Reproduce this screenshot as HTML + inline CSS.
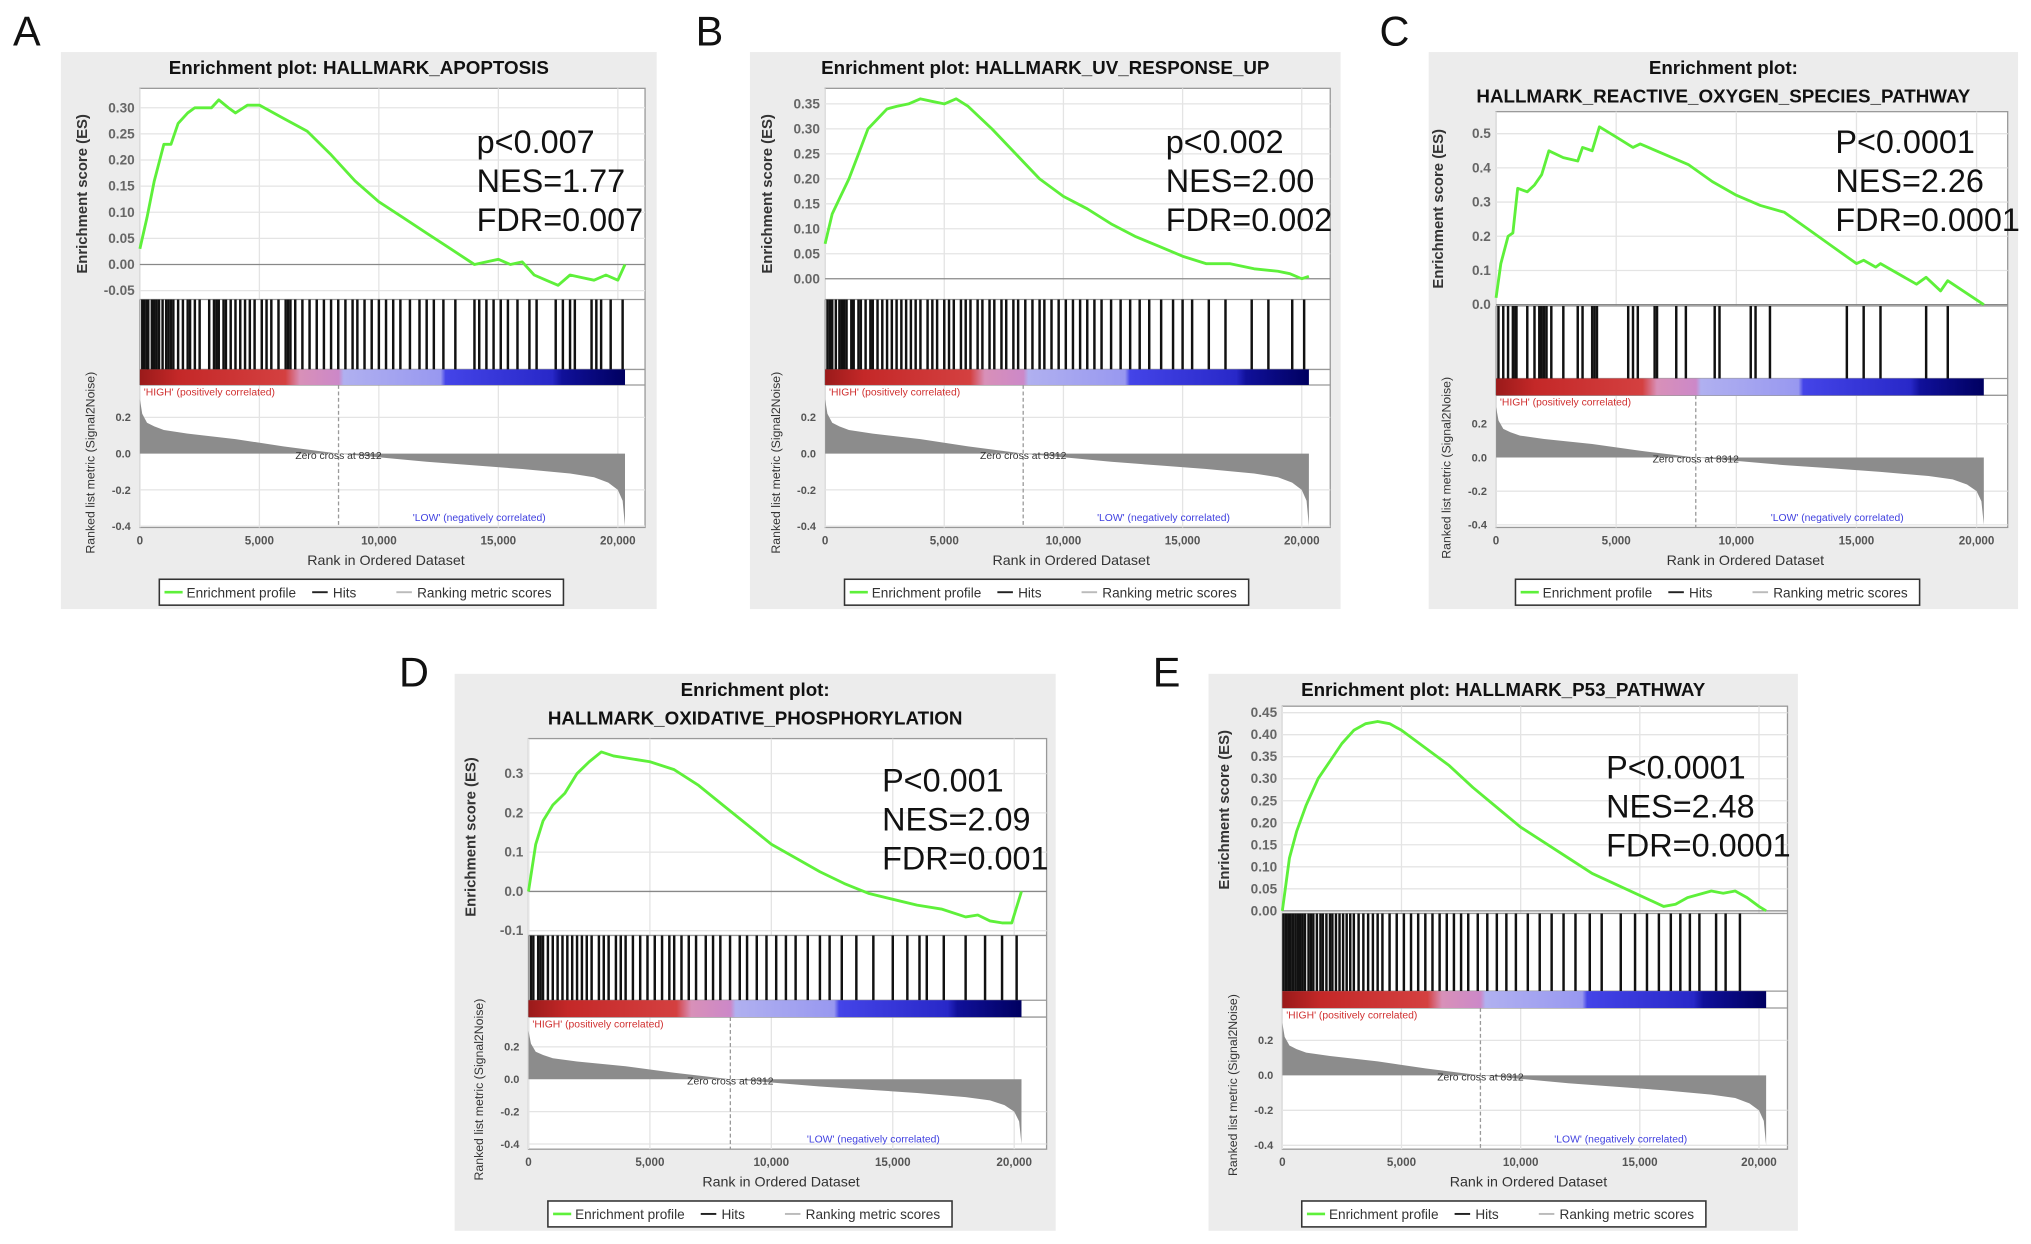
<!DOCTYPE html>
<html><head><meta charset="utf-8">
<style>
html,body{margin:0;padding:0;background:#fff;}
svg{display:block;font-family:"Liberation Sans",Arial,sans-serif;}
</style></head>
<body>
<svg id="fig" width="2031" height="1244" viewBox="0 0 1568 960" xmlns="http://www.w3.org/2000/svg">
<defs>
<linearGradient id="cbar" x1="0" x2="1" y1="0" y2="0">
<stop offset="0" stop-color="#9a1a1a"/><stop offset="0.08" stop-color="#c42828"/>
<stop offset="0.3" stop-color="#d44040"/><stop offset="0.33" stop-color="#d890b8"/>
<stop offset="0.41" stop-color="#cc88c8"/><stop offset="0.42" stop-color="#b0b0f0"/>
<stop offset="0.62" stop-color="#9898f0"/><stop offset="0.63" stop-color="#4444e8"/>
<stop offset="0.85" stop-color="#2828c8"/><stop offset="0.87" stop-color="#10109a"/>
<stop offset="1" stop-color="#000060"/></linearGradient>
</defs>
</svg>
<script>
// ---- data (rank in thousands) ----
const xTicks = [0, 5000, 10000, 15000, 20000];
const xTickLabels = ["0", "5,000", "10,000", "15,000", "20,000"];
const datasetSize = 20300;
const zeroCross = 8312;
const metricRanks = [0, 0.1, 0.3, 0.6, 1, 2, 4, 6, 8.312, 10, 12, 14, 16, 18, 19, 19.6, 20, 20.2, 20.3];
const metricValues = [0.3, 0.22, 0.17, 0.15, 0.13, 0.11, 0.08, 0.04, 0.0, -0.02, -0.045, -0.065, -0.085, -0.11, -0.13, -0.16, -0.2, -0.26, -0.4];

const esRanksA = [0,0.3,0.6,1,1.3,1.6,2,2.3,2.6,3,3.3,3.7,4,4.5,5,6,7,8,9,10,11,12,13,14,14.5,15,15.5,16,16.5,17,17.5,18,18.5,19,19.5,20,20.3];
const esValsA = [0.03,0.09,0.16,0.23,0.23,0.27,0.29,0.30,0.30,0.30,0.315,0.30,0.29,0.305,0.305,0.28,0.255,0.21,0.16,0.12,0.09,0.06,0.03,0.0,0.005,0.01,0.0,0.005,-0.02,-0.03,-0.04,-0.02,-0.025,-0.03,-0.02,-0.03,0.0];
const esRanksB = [0,0.3,0.6,1,1.4,1.8,2.2,2.6,3,3.5,4,4.5,5,5.5,6,7,8,9,10,11,12,13,14,15,16,17,18,19,19.5,20,20.3];
const esValsB = [0.07,0.13,0.16,0.20,0.25,0.30,0.32,0.34,0.345,0.35,0.36,0.355,0.35,0.36,0.345,0.30,0.25,0.20,0.165,0.14,0.11,0.085,0.065,0.045,0.03,0.03,0.02,0.015,0.01,0.0,0.005];
const esRanksC = [0,0.2,0.5,0.7,0.9,1.3,1.6,1.9,2.2,2.8,3.4,3.6,4.0,4.3,5,5.7,6,7,8,9,10,11,12,13,14,14.6,15,15.3,15.8,16,17.5,17.9,18.5,18.8,20.3];
const esValsC = [0.02,0.12,0.20,0.21,0.34,0.33,0.35,0.38,0.45,0.43,0.42,0.46,0.45,0.52,0.49,0.46,0.47,0.44,0.41,0.36,0.32,0.29,0.27,0.22,0.17,0.14,0.12,0.13,0.11,0.12,0.06,0.08,0.04,0.07,0.0];
const esRanksD = [0,0.3,0.6,1,1.5,2,2.5,3,3.5,4,5,6,7,8,9,10,11,12,13,14,15,16,17,18,18.5,19,19.5,19.9,20.3];
const esValsD = [0.0,0.12,0.18,0.22,0.25,0.30,0.33,0.355,0.345,0.34,0.33,0.31,0.27,0.22,0.17,0.12,0.085,0.05,0.02,-0.005,-0.02,-0.035,-0.045,-0.065,-0.06,-0.075,-0.08,-0.08,0.0];
const esRanksE = [0,0.3,0.6,1,1.5,2,2.5,3,3.5,4,4.5,5,6,7,8,9,10,11,12,13,14,15,16,16.5,17,18,18.5,19,19.5,20,20.3];
const esValsE = [0.0,0.12,0.18,0.24,0.30,0.34,0.38,0.41,0.425,0.43,0.425,0.41,0.37,0.33,0.28,0.235,0.19,0.155,0.12,0.085,0.06,0.035,0.01,0.015,0.03,0.045,0.04,0.045,0.03,0.01,0.0];

const hitsA = [0.1,0.2,0.3,0.35,0.5,0.6,0.7,0.8,0.95,1.1,1.2,1.3,1.4,1.6,1.8,2.0,2.1,2.3,2.5,2.9,3.1,3.2,3.3,3.5,3.6,3.8,4.0,4.2,4.4,4.6,4.8,5.1,5.3,5.5,5.8,6.1,6.2,6.3,6.5,6.8,7.1,7.4,7.7,8.0,8.3,8.6,8.9,9.1,9.4,9.7,10.0,10.3,10.6,10.9,11.3,11.7,12.0,12.3,12.7,13.2,14.0,14.2,14.5,14.8,15.1,15.4,15.8,16.3,16.6,17.4,17.7,18.0,18.2,18.9,19.1,19.3,19.7,20.2];
const hitsB = [0.1,0.2,0.3,0.45,0.6,0.7,0.8,0.9,1.1,1.2,1.4,1.5,1.7,1.9,2.0,2.2,2.4,2.6,2.8,3.0,3.2,3.4,3.6,3.8,4.0,4.3,4.5,4.7,5.0,5.2,5.4,5.7,5.9,6.1,6.4,6.6,6.9,7.1,7.4,7.6,7.9,8.1,8.4,8.7,9.0,9.2,9.5,9.8,10.1,10.4,10.7,11.0,11.3,11.6,12.0,12.4,12.8,13.2,13.6,14.1,14.6,15.0,15.4,16.1,16.8,17.9,18.6,19.6,20.1];
const hitsC = [0.1,0.3,0.5,0.7,0.8,0.85,1.3,1.6,1.8,1.9,2.0,2.1,2.3,2.8,3.4,3.6,4.0,4.1,4.2,5.5,5.7,5.9,6.6,6.7,7.5,7.9,9.1,9.3,10.6,10.8,11.4,14.6,15.3,16.0,17.9,18.8];
const hitsD = [0.1,0.2,0.4,0.5,0.6,0.8,1.0,1.2,1.4,1.6,1.8,2.0,2.2,2.4,2.6,2.9,3.1,3.3,3.6,3.8,4.0,4.3,4.6,4.9,5.2,5.5,5.8,6.0,6.3,6.6,6.9,7.3,7.6,7.9,8.3,8.7,9.0,9.4,9.8,10.2,10.6,11.0,11.5,12.0,12.4,12.9,13.5,14.2,15.0,15.6,16.1,16.4,17.1,18.0,18.8,19.5,20.1];
const hitsE = [0.05,0.15,0.25,0.35,0.45,0.55,0.65,0.75,0.85,0.95,1.1,1.2,1.3,1.45,1.6,1.7,1.85,2.0,2.1,2.25,2.4,2.55,2.7,2.85,3.0,3.2,3.4,3.6,3.8,4.0,4.2,4.5,4.8,5.1,5.4,5.7,6.0,6.3,6.6,6.9,7.2,7.5,7.8,8.2,8.6,9.0,9.4,9.8,10.3,10.8,11.3,11.8,12.3,12.9,13.4,14.2,14.8,15.3,15.8,16.3,16.7,17.1,17.5,18.2,18.6,19.2];

// ---- layout (positions, not data) ----
const panels = [
 {id:'a', letter:'A', lx:10, ly:35, box:[47,40,507,470], title:['Enrichment plot: HALLMARK_APOPTOSIS'], ty:57,
  x0:108, x1:498, xTick20k:477, es:[68,231], esZeroY:204, esTopVal:0.30, esTopY:83, esTicks:[0.30,0.25,0.20,0.15,0.10,0.05,0.00,-0.05], dec:2,
  hitsY:[231,285], barY:[285,297], rk:[297,407], rk02:322, rk0:350, stats:['p<0.007','NES=1.77','FDR=0.007'], sx:368, sy:118,
  esR:esRanksA, esV:esValsA, hits:hitsA},
 {id:'b', letter:'B', lx:537, ly:35, box:[579,40,1035,470], title:['Enrichment plot: HALLMARK_UV_RESPONSE_UP'], ty:57,
  x0:637, x1:1027, xTick20k:1005, es:[68,231], esZeroY:215, esTopVal:0.35, esTopY:80, esTicks:[0.35,0.30,0.25,0.20,0.15,0.10,0.05,0.00], dec:2,
  hitsY:[231,285], barY:[285,297], rk:[297,407], rk02:322, rk0:350, stats:['p<0.002','NES=2.00','FDR=0.002'], sx:900, sy:118,
  esR:esRanksB, esV:esValsB, hits:hitsB},
 {id:'c', letter:'C', lx:1065, ly:35, box:[1103,40,1558,470], title:['Enrichment plot:','HALLMARK_REACTIVE_OXYGEN_SPECIES_PATHWAY'], ty:57,
  x0:1155, x1:1550, xTick20k:1526, es:[86,236], esZeroY:235, esTopVal:0.5, esTopY:103, esTicks:[0.5,0.4,0.3,0.2,0.1,0.0], dec:1,
  hitsY:[236,292], barY:[292,305], rk:[305,407], rk02:327, rk0:353, stats:['P<0.0001','NES=2.26','FDR=0.0001'], sx:1417, sy:118,
  esR:esRanksC, esV:esValsC, hits:hitsC},
 {id:'d', letter:'D', lx:308, ly:530, box:[351,520,815,950], title:['Enrichment plot:','HALLMARK_OXIDATIVE_PHOSPHORYLATION'], ty:537,
  x0:408, x1:808, xTick20k:783, es:[570,722], esZeroY:688, esTopVal:0.3, esTopY:597, esTicks:[0.3,0.2,0.1,0.0,-0.1], dec:1,
  hitsY:[722,772], barY:[772,785], rk:[785,887], rk02:808, rk0:833, stats:['P<0.001','NES=2.09','FDR=0.001'], sx:681, sy:611,
  esR:esRanksD, esV:esValsD, hits:hitsD},
 {id:'e', letter:'E', lx:890, ly:530, box:[933,520,1388,950], title:['Enrichment plot: HALLMARK_P53_PATHWAY'], ty:537,
  x0:990, x1:1380, xTick20k:1358, es:[545,705], esZeroY:703, esTopVal:0.45, esTopY:550, esTicks:[0.45,0.40,0.35,0.30,0.25,0.20,0.15,0.10,0.05,0.00], dec:2,
  hitsY:[705,765], barY:[765,778], rk:[778,887], rk02:803, rk0:830, stats:['P<0.0001','NES=2.48','FDR=0.0001'], sx:1240, sy:601,
  esR:esRanksE, esV:esValsE, hits:hitsE}
];

const NS = 'http://www.w3.org/2000/svg';
const svg = document.getElementById('fig');
function mk(tag, attrs, parent, text){
  const e = document.createElementNS(NS, tag);
  for (const k in attrs) e.setAttribute(k, attrs[k]);
  if (text !== undefined) e.textContent = text;
  parent.appendChild(e); return e;
}

panels.forEach(p => {
  const g = mk('g', {}, svg);
  
  
  const xs = r => p.x0 + (r / 20000) * (p.xTick20k - p.x0);
  const esY = v => p.esZeroY - (v / p.esTopVal) * (p.esZeroY - p.esTopY);
  const rkY = v => p.rk0 - (v / 0.2) * (p.rk0 - p.rk02);
  const xEnd = xs(datasetSize);

  let t = mk('text', {x:p.lx, y:p.ly, 'font-size':32, fill:'#111'}, g, p.letter);
   
  let r = mk('rect', {x:p.box[0], y:p.box[1], width:p.box[2]-p.box[0], height:p.box[3]-p.box[1], fill:'#ececec'}, g);
   
  const cx = (p.box[0] + p.box[2]) / 2;
  p.title.forEach((line, i) => {
    const tt = mk('text', {x:cx, y:p.ty + i*22, 'font-size':14.5, 'font-weight':'bold', 'text-anchor':'middle', fill:'#111'}, g, line);
     
  });
  r = mk('rect', {x:p.x0, y:p.es[0], width:p.x1-p.x0, height:p.rk[1]-p.es[0], fill:'#fff', stroke:'#999', 'stroke-width':1}, g);
   
  xTicks.forEach(v => mk('line', {x1:xs(v), x2:xs(v), y1:p.es[0], y2:p.es[1], stroke:'#e4e4e4'}, g));
  xTicks.forEach(v => mk('line', {x1:xs(v), x2:xs(v), y1:p.rk[0], y2:p.rk[1], stroke:'#e4e4e4'}, g));
  p.esTicks.forEach(v => {
    mk('line', {x1:p.x0, x2:p.x1, y1:esY(v), y2:esY(v), stroke: v===0 ? '#888' : '#e4e4e4'}, g);
    const l = mk('text', {x:p.x0-4, y:esY(v)+3.5, 'font-size':10.5, 'font-weight':'bold', fill:'#666', 'text-anchor':'end'}, g, v.toFixed(p.dec));
     
  });
  t = mk('text', {x:0, y:0, 'font-size':11.5, 'font-weight':'bold', fill:'#333', 'text-anchor':'middle',
     transform:`translate(${p.x0-41},${(p.es[0]+p.es[1])/2}) rotate(-90)`}, g, 'Enrichment score (ES)');
   
  [p.es[1], p.barY[0], p.barY[1]].forEach(y => mk('line', {x1:p.x0, x2:p.x1, y1:y, y2:y, stroke:'#999'}, g));
  const hg = mk('g', {}, g);
   
  p.hits.forEach(h => {
    const ln = mk('line', {x1:xs(h*1000), x2:xs(h*1000), y1:p.hitsY[0], y2:p.hitsY[1], stroke:'#111', 'stroke-width':1.9}, hg);
     
  });
  r = mk('rect', {x:p.x0, y:p.barY[0], width:xEnd-p.x0, height:p.barY[1]-p.barY[0], fill:'url(#cbar)'}, g);
   
  t = mk('text', {x:p.x0+3, y:p.barY[1]+8, 'font-size':8, fill:'#d03030'}, g, "'HIGH' (positively correlated)");
   
  [0.2, 0.0, -0.2, -0.4].forEach(v => {
    if (v !== 0) mk('line', {x1:p.x0, x2:p.x1, y1:rkY(v), y2:rkY(v), stroke:'#e4e4e4'}, g);
    const l = mk('text', {x:p.x0-7, y:rkY(v)+3, 'font-size':8.5, 'font-weight':'bold', fill:'#555', 'text-anchor':'end'}, g, v.toFixed(1));
     
  });
  let d = `M${xs(0)},${rkY(0)}`;
  metricRanks.forEach((m, i) => { d += ` L${xs(m*1000).toFixed(1)},${rkY(metricValues[i]).toFixed(1)}`; });
  d += ` L${xEnd},${rkY(0)} Z`;
  const ar = mk('path', {d, fill:'#8c8c8c'}, g);
   
  mk('line', {x1:xs(zeroCross), x2:xs(zeroCross), y1:p.barY[1], y2:p.rk[1], stroke:'#999', 'stroke-dasharray':'3,2'}, g);
  t = mk('text', {x:xs(zeroCross), y:p.rk0+4, 'font-size':8, fill:'#333', 'text-anchor':'middle'}, g, 'Zero cross at 8312');
   
  t = mk('text', {x:xs(14200), y:p.rk[1]-5, 'font-size':8, fill:'#4040e0', 'text-anchor':'middle'}, g, "'LOW' (negatively correlated)");
   
  t = mk('text', {x:0, y:0, 'font-size':9.5, fill:'#333', 'text-anchor':'middle',
     transform:`translate(${p.x0-35},${(p.rk[0]+p.rk[1])/2+5}) rotate(-90)`}, g, 'Ranked list metric (Signal2Noise)');
   
  xTicks.forEach((v, i) => {
    const l = mk('text', {x:xs(v), y:p.rk[1]+13, 'font-size':9, 'font-weight':'bold', fill:'#555', 'text-anchor':'middle'}, g, xTickLabels[i]);
     
  });
  t = mk('text', {x:(p.x0+p.x1)/2-5, y:p.rk[1]+29, 'font-size':11, fill:'#333', 'text-anchor':'middle'}, g, 'Rank in Ordered Dataset');
   
  let pd = '';
  p.esR.forEach((rk, i) => { pd += (i ? ' L' : 'M') + xs(rk*1000).toFixed(1) + ',' + esY(p.esV[i]).toFixed(1); });
  const cv = mk('path', {d:pd, fill:'none', stroke:'#5ef03a', 'stroke-width':2.2, 'stroke-linejoin':'round'}, g);
   
  p.stats.forEach((s, i) => {
    const st = mk('text', {x:p.sx, y:p.sy + i*30, 'font-size':25, fill:'#111'}, g, s);
     
  });
  const lx0 = p.x0 + 15, ly0 = p.rk[1] + 40;
  const lg = mk('g', {}, g);
   
  mk('rect', {x:lx0, y:ly0, width:312, height:20, fill:'#fff', stroke:'#333', 'stroke-width':1.2}, lg);
  mk('line', {x1:lx0+4, x2:lx0+18, y1:ly0+10, y2:ly0+10, stroke:'#5ef03a', 'stroke-width':2}, lg);
  let le = mk('text', {x:lx0+21, y:ly0+14, 'font-size':10.5, fill:'#333'}, lg, 'Enrichment profile');
   
  mk('line', {x1:lx0+118, x2:lx0+130, y1:ly0+10, y2:ly0+10, stroke:'#222', 'stroke-width':1.5}, lg);
  le = mk('text', {x:lx0+134, y:ly0+14, 'font-size':10.5, fill:'#333'}, lg, 'Hits');
   
  mk('line', {x1:lx0+183, x2:lx0+195, y1:ly0+10, y2:ly0+10, stroke:'#bbb', 'stroke-width':1.5}, lg);
  le = mk('text', {x:lx0+199, y:ly0+14, 'font-size':10.5, fill:'#333'}, lg, 'Ranking metric scores');
   
});
</script>
</body></html>
